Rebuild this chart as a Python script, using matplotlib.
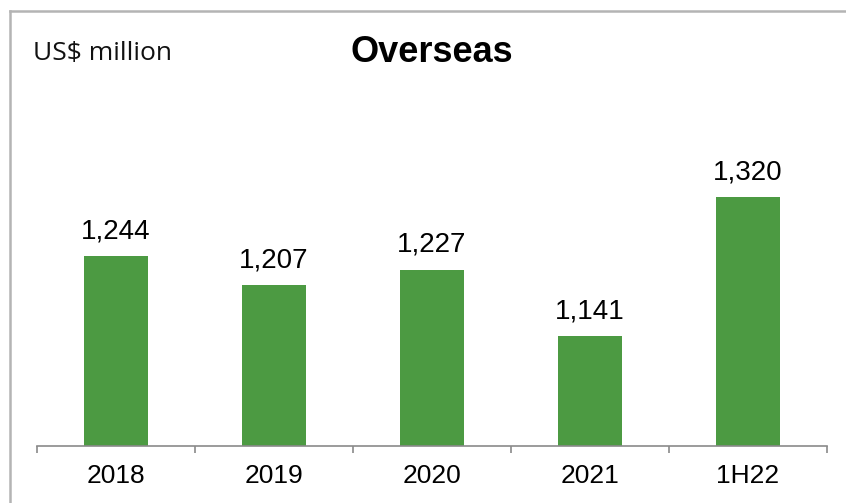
import matplotlib
matplotlib.use("Agg")
import matplotlib.pyplot as plt
from matplotlib.lines import Line2D

# chart data
categories = ["2018", "2019", "2020", "2021", "1H22"]
values = [1244, 1207, 1227, 1141, 1320]
value_labels = ["1,244", "1,207", "1,227", "1,141", "1,320"]

green = "#4c9a42"
axis_grey = "#8a8a8a"

fig = plt.figure(figsize=(8.46, 5.03), dpi=100)
ax = fig.add_axes([37 / 846, 57 / 503, 790 / 846, 311 / 503])

x = list(range(len(categories)))
ax.bar(x, values, width=0.405, color=green, zorder=2)

# value labels above bars
for xi, v, lab in zip(x, values, value_labels):
    ax.annotate(lab, (xi, v), xytext=(0, 13), textcoords="offset points",
                ha="center", va="baseline", fontsize=20,
                family="Liberation Sans", color="black")

ax.set_xlim(-0.5, len(categories) - 0.5)
ax.set_ylim(1000, 1400)

# x axis: ticks at category boundaries, labels centred
ax.set_xticks([i - 0.5 for i in range(len(categories) + 1)])
ax.set_xticklabels([])
ax.set_xticks(x, minor=True)
ax.set_xticklabels(categories, minor=True, fontsize=19, family="Liberation Sans")
ax.tick_params(axis="x", which="major", length=5, width=1.2, color=axis_grey, direction="out")
ax.tick_params(axis="x", which="minor", length=0, pad=13)
ax.set_yticks([])

for s in ["top", "right", "left"]:
    ax.spines[s].set_visible(False)
ax.spines["bottom"].set_color(axis_grey)
ax.spines["bottom"].set_linewidth(1.2)

# titles
fig.text(432 / 846, 1 - 53 / 503, "Overseas", ha="center", va="center",
         fontsize=26, fontweight="bold", family="Liberation Sans")
fig.text(33 / 846, 1 - 53 / 503, "US$ million", ha="left", va="center",
         fontsize=19, family="Open Sans", color="#111111")

# grey frame, only top and left edges fall inside the picture
fx = 9.5 / 846
fy = 1 - 10.5 / 503
fig.add_artist(Line2D([fx, 1.0], [fy, fy], transform=fig.transFigure,
                      color="#b4b4b4", linewidth=1.8))
fig.add_artist(Line2D([fx, fx], [0.0, fy], transform=fig.transFigure,
                      color="#b4b4b4", linewidth=1.8))

fig.savefig("out.png", dpi=100)
